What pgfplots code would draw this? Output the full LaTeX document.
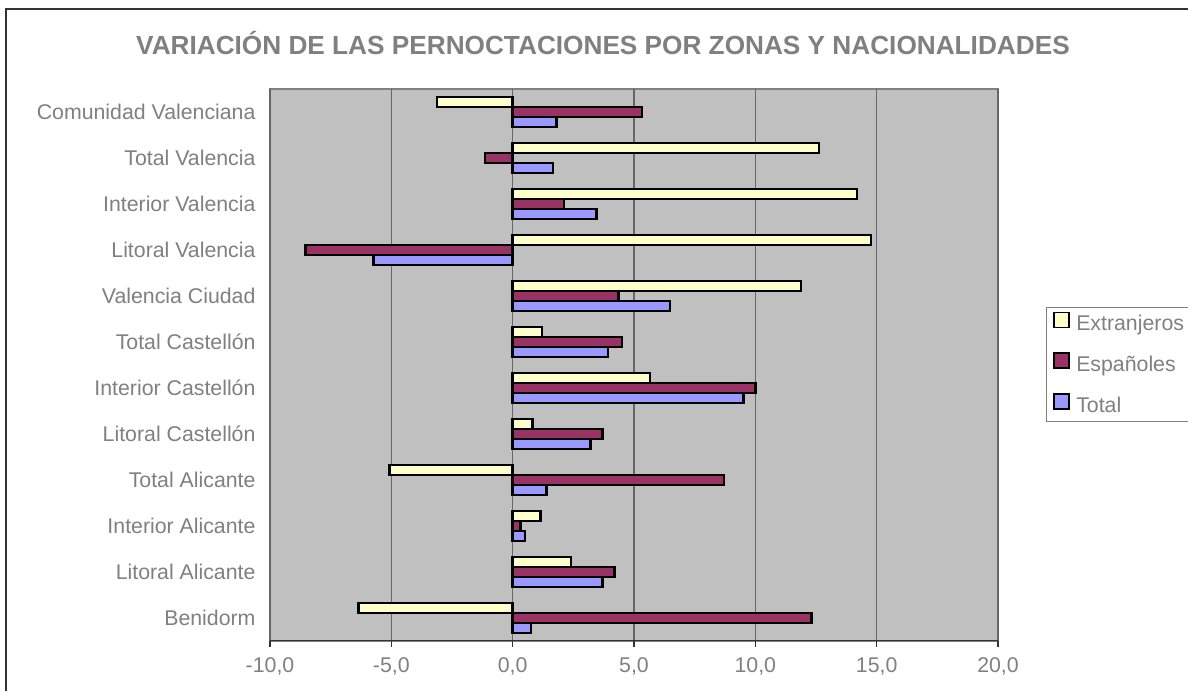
\documentclass[border=0pt]{standalone}
\usepackage{fontspec}
\setmainfont{Liberation Sans}
\usepackage{pgfplots}
\pgfplotsset{compat=1.18}
\definecolor{PlotBg}{HTML}{C0C0C0}
\definecolor{GridGray}{HTML}{666666}
\definecolor{BorderGray}{HTML}{808080}
\definecolor{TextGray}{HTML}{808080}
\definecolor{AxisDark}{HTML}{333333}
\definecolor{ExtrFill}{HTML}{FFFFCC}
\definecolor{EspFill}{HTML}{993366}
\definecolor{TotFill}{HTML}{9999FF}

% index 0 = Benidorm (bottom) ... 11 = Comunidad Valenciana (top)
\begin{document}
\begin{tikzpicture}
\clip (0,0) rectangle (1188bp,691bp);
\fill[white] (0,0) rectangle (1188bp,691bp);
% outer frame (cropped at right and bottom)
\draw[AxisDark, line width=2bp] (6bp,0) -- (6bp,682bp) -- (1188bp,682bp);
\node[font=\fontsize{26.2bp}{30bp}\selectfont\bfseries, text=TextGray] at (603bp,648bp)
  {VARIACIÓN DE LAS PERNOCTACIONES POR ZONAS Y NACIONALIDADES};
\begin{axis}[
    at={(270bp,50bp)}, anchor=south west,
    scale only axis,
    width=728bp, height=552bp,
    xbar,
    bar width=0.217,
    xmin=-10, xmax=20,
    ymin=-0.5, ymax=11.5,
    xtick={-10,-5,0,5,10,15,20},
    xticklabels={{-10,0},{-5,0},{0,0},{5,0},{10,0},{15,0},{20,0}},
    ytick={0,...,11},
    yticklabels={Benidorm, Litoral Alicante, Interior Alicante, Total Alicante,
      Litoral Castellón, Interior Castellón, Total Castellón, Valencia Ciudad,
      Litoral Valencia, Interior Valencia, Total Valencia, Comunidad Valenciana},
    xmajorgrids,
    grid style={GridGray, line width=1.4bp},
    axis line style={draw=none},
    axis background/.style={fill=PlotBg, draw=BorderGray, line width=1.5bp},
    tick align=outside,
    xtick pos=bottom,
    ytick pos=left,
    major tick length=6bp,
    x tick style={AxisDark, line width=1.2bp},
    y tick style={draw=none},
    tick label style={font=\fontsize{21.3bp}{25bp}\selectfont, text=TextGray},
    xticklabel style={yshift=-7bp},
    yticklabel style={xshift=-5bp},
    legend style={at={(1.0659,0.605)}, anchor=north west,
      draw=BorderGray, line width=1bp, fill=white,
      font=\fontsize{21.3bp}{25bp}\selectfont, text=TextGray,
      inner xsep=7bp, inner ysep=4bp,
      row sep=16.5bp, column sep=6bp,
      nodes={inner sep=0pt, text height=16bp, text depth=5bp}},
    legend cell align=left,
    legend image code/.code={\draw[#1, line width=1.8bp] (0bp,-2bp) rectangle (15bp,13bp);},
]
\addplot[fill=ExtrFill, draw=black, line width=2.4bp, bar shift=0.217] coordinates {
    (-6.35,0) (2.4,1) (1.15,2) (-5.08,3) (0.82,4) (5.67,5)
    (1.22,6) (11.89,7) (14.77,8) (14.2,9) (12.63,10) (-3.11,11)
};
\addplot[fill=EspFill, draw=black, line width=2.4bp, bar shift=0] coordinates {
    (12.31,0) (4.2,1) (0.33,2) (8.7,3) (3.7,4) (10.0,5)
    (4.5,6) (4.36,7) (-8.53,8) (2.12,9) (-1.15,10) (5.33,11)
};
\addplot[fill=TotFill, draw=black, line width=2.4bp, bar shift=-0.217] coordinates {
    (0.76,0) (3.7,1) (0.5,2) (1.4,3) (3.21,4) (9.52,5)
    (3.93,6) (6.49,7) (-5.74,8) (3.46,9) (1.66,10) (1.81,11)
};
\legend{Extranjeros, Españoles, Total}
\draw[AxisDark, line width=1.5bp] (rel axis cs:0,0) -- (rel axis cs:1,0);
\end{axis}
\end{tikzpicture}
\end{document}
